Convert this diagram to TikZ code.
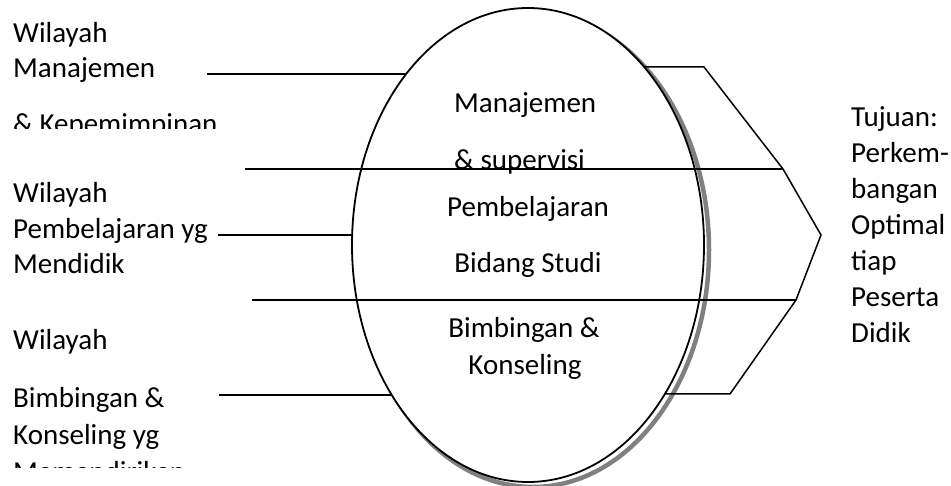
\documentclass[tikz,border=0pt]{standalone}
\usepackage{fontspec}
\setmainfont{Carlito}
\usetikzlibrary{shapes.geometric}
\begin{document}
\begin{tikzpicture}[x=1pt,y=-1pt,
  lbl/.style={inner sep=0pt, anchor=base west, font=\fontsize{29}{35}\selectfont},
  clbl/.style={inner sep=0pt, anchor=base, font=\fontsize{29}{35}\selectfont},
  ln/.style={line width=1.5pt, line join=miter},
  shadowline/.style={draw=black!50, line width=4.5pt},
]
\useasboundingbox (0,0) rectangle (951,486);
% shadow and ellipse
\draw[shadowline] (533,250) ellipse [x radius=176pt, y radius=237pt];
\node[ellipse, draw, line width=1.8pt, fill=white, minimum width=352pt, minimum height=474pt, inner sep=0pt] (E) at (528,245) {};

% left connectors
\coordinate (l1) at (207,74);  \coordinate (e1) at (406,74);
\coordinate (l2) at (218,235); \coordinate (e2) at (352,235);
\coordinate (l3) at (219,395); \coordinate (e3) at (392,395);
\draw[ln] (l1) -- (e1);
\draw[ln] (l2) -- (e2);
\draw[ln] (l3) -- (e3);

% crossing lines and arrow outline
\coordinate (a1) at (245,169); \coordinate (p1) at (783,169);
\coordinate (a2) at (252,300); \coordinate (p2) at (796,300);
\coordinate (r1) at (644,67);  \coordinate (q1) at (704,67);
\coordinate (tip) at (821,235);
\coordinate (q3) at (730,394); \coordinate (r3) at (664,394);
\draw[ln] (a1) -- (p1);
\draw[ln] (a2) -- (p2);
\draw[ln] (r1) -- (q1) -- (p1) -- (tip) -- (p2) -- (q3) -- (r3);

% left texts
\node[lbl] (w1a) at (13,43) {Wilayah};
\node[lbl] (w1b) at (13,78) {Manajemen};
\begin{scope}
  \clip (0,100) rectangle (300,129);
  \node[lbl] (w1c) at (13,134) {\& Kepemimpinan};
\end{scope}
\node[lbl] (w2a) at (13,203) {Wilayah};
\node[lbl] (w2b) at (13,239) {Pembelajaran yg};
\node[lbl] (w2c) at (13,274) {Mendidik};
\node[lbl] (w3a) at (13,350) {Wilayah};
\node[lbl] (w3b) at (13,407) {Bimbingan \&};
\node[lbl] (w3c) at (13,444) {Konseling yg};
\begin{scope}
  \clip (0,450) rectangle (300,467);
  \node[lbl] (w3d) at (13,481) {Memandirikan};
\end{scope}

% centre texts
\node[lbl] (c1) at (454,113) {Manajemen};
\node[lbl] (c2) at (454,170) {\& supervisi};
\node[clbl] (c3) at (528,217) {Pembelajaran};
\node[clbl] (c4) at (528,273) {Bidang Studi};
\node[clbl] (c5) at (524,338) {Bimbingan \&};
\node[clbl] (c6) at (525,375) {Konseling};

% right text
\foreach \t [count=\i from 0] in {Tujuan:,Perkem-,bangan,Optimal,tiap,Peserta,Didik}
  \node[lbl] (t\i) at (851,127+35.9*\i) {\t};
\end{tikzpicture}
\end{document}
